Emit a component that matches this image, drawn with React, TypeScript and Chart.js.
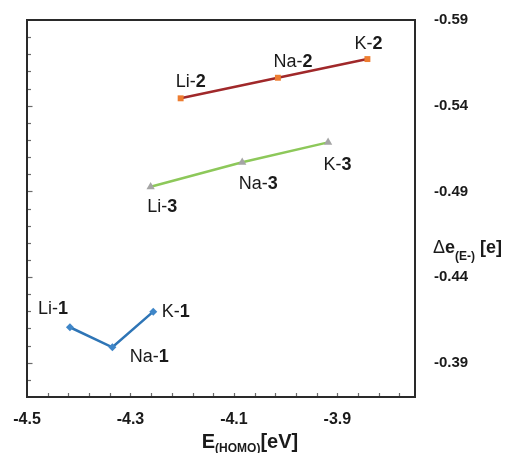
import React, { useEffect, useRef } from "react";
import { Chart, registerables } from "chart.js";

Chart.register(...registerables);

// ---------- data ----------
const metals = ["Li", "Na", "K"];
const seriesIds = ["1", "2", "3"];
const homo1 = [-4.417, -4.335, -4.256];
const de1 = [-0.4107, -0.399, -0.4198];
const homo2 = [-4.203, -4.015, -3.842];
const de2 = [-0.5443, -0.5563, -0.5672];
const homo3 = [-4.261, -4.084, -3.918];
const de3 = [-0.4927, -0.507, -0.5186];
const xTickValues = [-4.5, -4.3, -4.1, -3.9];
const yTickValues = [-0.59, -0.54, -0.49, -0.44, -0.39];
const xMin = -4.5;
const xMax = -3.75;
const yMin = -0.59;
const yMax = -0.37;
const xMinorStep = 0.04;
const yMinorStep = 0.01;

// ---------- styles ----------
const FONT = "'Liberation Sans', Arial, Helvetica, sans-serif";
const TEXT = "#1a1a1a";
const lineColors = ["#2e75b6", "#a0282a", "#8dc85a"];
const markerColors = ["#3f86c8", "#ed7d31", "#a5a5a5"];
const markerStyles = ["rectRot", "rect", "triangle"];
const markerRadii = [4, 4.2, 4.8];
// label centre offsets (px) from each point, per series
const labelDx = [
  [-17, 37, 22.5],
  [10, 15, 1],
  [11.5, 16, 9.5],
];
const labelDy = [
  [-18, 10, 0.5],
  [-16, -16, -15],
  [20, 22, 22.7],
];

function drawParts(
  ctx: CanvasRenderingContext2D,
  parts: { t: string; font: string; dy?: number }[],
  x: number,
  y: number,
  align: "center" | "left"
) {
  let w = 0;
  for (const p of parts) {
    ctx.font = p.font;
    w += ctx.measureText(p.t).width;
  }
  let cx = align === "center" ? x - w / 2 : x;
  for (const p of parts) {
    ctx.font = p.font;
    ctx.fillText(p.t, cx, y + (p.dy || 0));
    cx += ctx.measureText(p.t).width;
  }
}

const decorPlugin = {
  id: "decor",
  afterDraw(chart: any) {
    const ctx: CanvasRenderingContext2D = chart.ctx;
    const { left, right, top, bottom } = chart.chartArea;
    const xs = chart.scales.x;
    const ys = chart.scales.y;
    ctx.save();

    // minor ticks (inside)
    ctx.strokeStyle = "#6b6b6b";
    ctx.lineWidth = 1.2;
    const nx = Math.round((xMax - xMin) / xMinorStep);
    for (let k = 1; k <= nx; k++) {
      const v = xMin + k * xMinorStep;
      if (v >= xMax - 1e-9) break;
      const px = Math.round(xs.getPixelForValue(v)) + 0.5;
      ctx.beginPath();
      ctx.moveTo(px, bottom);
      ctx.lineTo(px, bottom - 4);
      ctx.stroke();
    }
    const ny = Math.round((yMax - yMin) / yMinorStep);
    for (let k = 1; k <= ny; k++) {
      const v = yMin + k * yMinorStep;
      if (v >= yMax - 1e-9) break;
      const py = Math.round(ys.getPixelForValue(v)) + 0.5;
      const len = k % 5 === 0 ? 5.5 : 4;
      ctx.beginPath();
      ctx.moveTo(left, py);
      ctx.lineTo(left + len, py);
      ctx.stroke();
    }

    // frame
    ctx.strokeStyle = "#2a2a2a";
    ctx.lineWidth = 2;
    ctx.strokeRect(left, top, right - left, bottom - top);

    // point labels
    ctx.fillStyle = TEXT;
    ctx.textBaseline = "middle";
    chart.data.datasets.forEach((ds: any, si: number) => {
      const meta = chart.getDatasetMeta(si);
      meta.data.forEach((el: any, i: number) => {
        drawParts(
          ctx,
          [
            { t: metals[i] + "-", font: `18px ${FONT}` },
            { t: seriesIds[si], font: `bold 18px ${FONT}` },
          ],
          el.x + labelDx[si][i],
          el.y + labelDy[si][i],
          "center"
        );
      });
    });

    // axis titles
    ctx.textBaseline = "alphabetic";
    drawParts(
      ctx,
      [
        { t: "E", font: `bold 20px ${FONT}` },
        { t: "(HOMO)", font: `bold 12px ${FONT}`, dy: 4.5 },
        { t: "[eV]", font: `bold 20px ${FONT}` },
      ],
      (left + right) / 2 + 29,
      447.5,
      "center"
    );
    drawParts(
      ctx,
      [
        { t: "\u0394", font: `18px ${FONT}` },
        { t: "e", font: `bold 18px ${FONT}` },
        { t: "(E-)", font: `bold 12px ${FONT}`, dy: 6.5 },
        { t: " [e]", font: `bold 18px ${FONT}` },
      ],
      433,
      253,
      "left"
    );
    ctx.restore();
  },
};

export default function App() {
  const ref = useRef<HTMLCanvasElement>(null);
  useEffect(() => {
    const xsArr = [homo1, homo2, homo3];
    const ysArr = [de1, de2, de3];
    const datasets = xsArr.map((xv, si) => ({
      label: "Series " + seriesIds[si],
      data: xv.map((x, i) => ({ x, y: ysArr[si][i] })),
      borderColor: lineColors[si],
      backgroundColor: markerColors[si],
      pointBackgroundColor: markerColors[si],
      pointBorderColor: markerColors[si],
      pointStyle: markerStyles[si],
      pointRadius: markerRadii[si],
      pointBorderWidth: 0,
      borderWidth: 2.5,
      showLine: true,
      fill: false,
      tension: 0,
    }));
    const chart = new Chart(ref.current as HTMLCanvasElement, {
      type: "scatter",
      data: { datasets } as any,
      options: {
        animation: false,
        responsive: false,
        maintainAspectRatio: false,
        layout: { padding: { left: 27, top: 20, right: 0, bottom: 0 } },
        plugins: {
          legend: { display: false },
          tooltip: { enabled: false },
        },
        scales: {
          x: {
            type: "linear",
            position: "bottom",
            min: xMin,
            max: xMax,
            grid: { display: false },
            border: { display: false },
            afterBuildTicks: (s: any) => {
              s.ticks = xTickValues.map((v) => ({ value: v }));
            },
            afterFit: (s: any) => {
              s.height = 56;
              s.paddingLeft = 0;
              s.paddingRight = 0;
            },
            ticks: {
              padding: 5,
              maxRotation: 0,
              color: TEXT,
              font: { family: FONT, size: 16, weight: "bold" },
              callback: (v: any) => Number(v).toFixed(1),
            },
          },
          y: {
            type: "linear",
            position: "right",
            reverse: true,
            min: yMin,
            max: yMax,
            grid: { display: false },
            border: { display: false },
            afterBuildTicks: (s: any) => {
              s.ticks = yTickValues.map((v) => ({ value: v }));
            },
            afterFit: (s: any) => {
              s.width = 97;
              s.paddingTop = 0;
              s.paddingBottom = 0;
            },
            ticks: {
              padding: 11,
              color: TEXT,
              font: { family: FONT, size: 15, weight: "bold" },
              callback: (v: any) => Number(v).toFixed(2),
            },
          },
        },
      } as any,
      plugins: [decorPlugin],
    });
    return () => chart.destroy();
  }, []);
  return (
    <div
      style={{
        position: "absolute",
        left: 0,
        top: 0,
        width: 512,
        height: 453,
        background: "#fff",
      }}
    >
      <canvas ref={ref} width={512} height={453} style={{ display: "block" }} />
    </div>
  );
}
